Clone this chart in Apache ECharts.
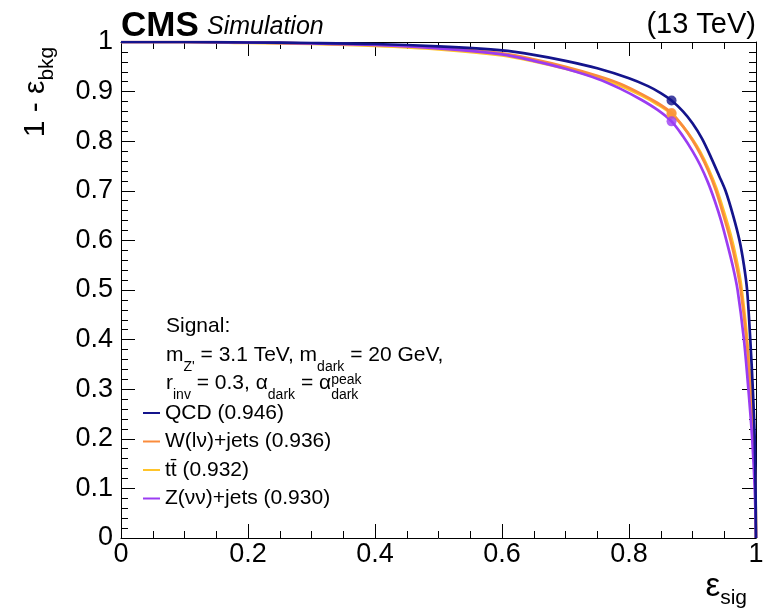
<!DOCTYPE html>
<html><head><meta charset="utf-8">
<script src="https://cdn.jsdelivr.net/npm/echarts@6/dist/echarts.min.js"></script>
<style>html,body{margin:0;padding:0;background:#fff}#c{width:767px;height:610px}</style>
</head><body><div id="c"></div>
<script>
// ---- data ----
const xTickLabels = ['0','0.2','0.4','0.6','0.8','1'];
const yTickLabels = ['0','0.1','0.2','0.3','0.4','0.5','0.6','0.7','0.8','0.9','1'];

const seriesNames = ['QCD (0.946)', 'W(l\u03BD)+jets (0.936)', 't\u0074\u0304 (0.932)', 'Z(\u03BD\u03BD)+jets (0.930)'];

// signal efficiency (x) and background rejection 1 - eps_bkg (y)
const qcdSig = [0, 0.1, 0.2, 0.3, 0.4, 0.5, 0.6, 0.65, 0.7, 0.75, 0.8, 0.83, 0.85, 0.867, 0.885, 0.9, 0.915, 0.93, 0.942, 0.952, 0.964, 0.974, 0.981, 0.986, 0.991, 0.995, 0.998, 0.9993, 1.0];
const qcdRej = [1.0, 1.0, 0.999, 0.998, 0.996, 0.991, 0.983, 0.974, 0.962, 0.947, 0.927, 0.911, 0.897, 0.882, 0.860, 0.836, 0.805, 0.765, 0.730, 0.700, 0.650, 0.600, 0.550, 0.500, 0.400, 0.300, 0.200, 0.100, 0.0];

const wSig = [0, 0.1, 0.2, 0.3, 0.4, 0.5, 0.6, 0.65, 0.7, 0.75, 0.786, 0.82, 0.845, 0.867, 0.885, 0.9, 0.912, 0.925, 0.937, 0.949, 0.960, 0.969, 0.976, 0.985, 0.991, 0.996, 0.999, 1.0];
const wRej = [1.0, 1.0, 0.999, 0.997, 0.994, 0.988, 0.977, 0.965, 0.950, 0.932, 0.916, 0.895, 0.877, 0.857, 0.830, 0.802, 0.775, 0.740, 0.700, 0.650, 0.600, 0.550, 0.500, 0.400, 0.300, 0.200, 0.100, 0.0];

const ttSig = [0, 0.1, 0.2, 0.3, 0.4, 0.5, 0.6, 0.65, 0.7, 0.75, 0.786, 0.82, 0.845, 0.867, 0.885, 0.9, 0.912, 0.925, 0.937, 0.949, 0.960, 0.969, 0.976, 0.985, 0.991, 0.996, 0.999, 1.0];
const ttRej = [1.0, 1.0, 0.998, 0.996, 0.992, 0.985, 0.973, 0.961, 0.946, 0.928, 0.912, 0.892, 0.874, 0.855, 0.830, 0.804, 0.779, 0.745, 0.707, 0.660, 0.612, 0.563, 0.515, 0.415, 0.315, 0.210, 0.105, 0.0];

const zSig = [0, 0.1, 0.2, 0.3, 0.4, 0.5, 0.6, 0.65, 0.7, 0.75, 0.786, 0.82, 0.845, 0.867, 0.885, 0.9, 0.912, 0.924, 0.935, 0.945, 0.955, 0.964, 0.971, 0.981, 0.988, 0.994, 0.998, 1.0];
const zRej = [1.0, 1.0, 0.999, 0.997, 0.994, 0.987, 0.975, 0.962, 0.946, 0.926, 0.906, 0.883, 0.863, 0.840, 0.810, 0.780, 0.752, 0.718, 0.680, 0.640, 0.592, 0.545, 0.500, 0.400, 0.300, 0.200, 0.100, 0.0];

// working points
const wpSig = [0.867, 0.867, 0.867, 0.867];
const wpRej = [0.882, 0.857, 0.855, 0.840];

const colors = ['#14148c', '#fa8c3c', '#ffc42a', '#9b3cf2'];

// ---- build ----
const FONT = '"Liberation Sans", Arial, Helvetica, sans-serif';
function pairs(xs, ys) { return xs.map((x, i) => [x, ys[i]]); }
const curves = [
  {name: seriesNames[0], d: pairs(qcdSig, qcdRej), c: colors[0], z: 5},
  {name: seriesNames[1], d: pairs(wSig, wRej), c: colors[1], z: 3},
  {name: seriesNames[2], d: pairs(ttSig, ttRej), c: colors[2], z: 2},
  {name: seriesNames[3], d: pairs(zSig, zRej), c: colors[3], z: 4}
];
const drawOrder = [2, 1, 3, 0];
const series = drawOrder.map(i => ({
  type: 'line', name: curves[i].name, data: curves[i].d, showSymbol: false, symbol: 'none',
  smooth: 0.3, color: curves[i].c, lineStyle: {color: curves[i].c, width: 2.7}, z: curves[i].z,
  xAxisIndex: 0, yAxisIndex: 0, animation: false
}));
[2, 1, 3, 0].forEach(i => series.push({
  type: 'scatter', name: 'wp' + i, data: [[wpSig[i], wpRej[i]]], symbol: 'circle', symbolSize: 10,
  itemStyle: {color: colors[i]}, z: 6, animation: false
}));

function axisBase(isX, pos, showLabel) {
  return {
    type: 'value', min: 0, max: 1, interval: isX ? 0.2 : 0.1, position: pos,
    axisLine: {show: true, onZero: false, lineStyle: {color: '#000', width: 1}},
    axisTick: {show: true, inside: true, length: 14, lineStyle: {color: '#000', width: 1}},
    minorTick: {show: true, splitNumber: isX ? 4 : 5, length: 7, lineStyle: {color: '#000', width: 1}},
    splitLine: {show: false}, minorSplitLine: {show: false},
    axisLabel: {
      show: showLabel, color: '#000', fontSize: 27, fontFamily: FONT, margin: isX ? 3 : 8,
      formatter: v => isX ? xTickLabels[Math.round(v / 0.2)] : yTickLabels[Math.round(v / 0.1)]
    }
  };
}

// measure helper for stacked super/subscript
const mctx = document.createElement('canvas').getContext('2d');
function tw(t, size) { mctx.font = size + 'px ' + FONT; return mctx.measureText(t).width; }

const M = 21, S = 14;
const rich = {
  n: {fontSize: M, lineHeight: 26, fontFamily: FONT, color: '#000', verticalAlign: 'top'},
  s: {fontSize: S, lineHeight: 14, fontFamily: FONT, color: '#000', verticalAlign: 'top', padding: [15, 0, 0, 0]},
  p: {fontSize: S, lineHeight: 14, fontFamily: FONT, color: '#000', verticalAlign: 'top', padding: [0, 0, 12, 0]}
};
const txL = 166;
const line3x = txL + tw('r', M) + tw('inv', S) + tw(' = 0.3, \u03B1', M) + tw('dark', S) + tw(' = \u03B1', M);

const graphic = [
  {type: 'text', left: 121, top: 9, style: {text: 'CMS', font: 'bold 35px ' + FONT, fill: '#000'}},
  {type: 'text', left: 207, top: 15, style: {text: 'Simulation', font: 'italic 25px ' + FONT, fill: '#000'}},
  {type: 'text', right: 11, top: 10, style: {text: '(13 TeV)', font: '29px ' + FONT, fill: '#000'}},
  {type: 'text', x: txL, y: 316, style: {text: '{n|Signal:}', rich: rich}},
  {type: 'text', x: txL, y: 345, style: {text: "{n|m}{s|Z'}{n| = 3.1 TeV, m}{s|dark}{n| = 20 GeV,}", rich: rich}},
  {type: 'text', x: txL, y: 373, style: {text: '{n|r}{s|inv}{n| = 0.3, \u03B1}{s|dark}{n| = \u03B1}{p|peak}', rich: rich}},
  {type: 'text', x: line3x, y: 373, style: {text: '{s|dark}', rich: rich}},
  // x axis title
  {type: 'text', right: 20, top: 570, style: {text: '{e|\u03B5}{s|sig}', rich: {
    e: {fontSize: 33, lineHeight: 34, fontFamily: FONT, color: '#000', verticalAlign: 'top'},
    s: {fontSize: 21, lineHeight: 21, fontFamily: FONT, color: '#000', verticalAlign: 'top', padding: [18, 0, 0, 0]}
  }}},
  // y axis title
  {type: 'text', x: 38, y: 92, rotation: Math.PI / 2, style: {text: '{e|1 - \u03B5}{s|bkg}', align: 'center', verticalAlign: 'middle', rich: {
    e: {fontSize: 30, lineHeight: 34, fontFamily: FONT, color: '#000', verticalAlign: 'top'},
    s: {fontSize: 21, lineHeight: 21, fontFamily: FONT, color: '#000', verticalAlign: 'top', padding: [16, 0, 0, 0]}
  }}}
];

const chart = echarts.init(document.getElementById('c'), null, {renderer: 'canvas'});
chart.setOption({
  animation: false,
  backgroundColor: '#fff',
  grid: {left: 121, right: 11, top: 42, bottom: 72},
  xAxis: [axisBase(true, 'bottom', true), axisBase(true, 'top', false)],
  yAxis: [axisBase(false, 'left', true), axisBase(false, 'right', false)],
  legend: {
    orient: 'vertical', left: 143, top: 402, padding: 0, itemWidth: 17, itemHeight: 2, itemGap: 6.5, icon: 'rect',
    selectedMode: false, data: seriesNames,
    textStyle: {fontSize: 21, lineHeight: 22, color: '#000', fontFamily: FONT}
  },
  graphic: graphic,
  series: series
});
</script>
</body></html>
